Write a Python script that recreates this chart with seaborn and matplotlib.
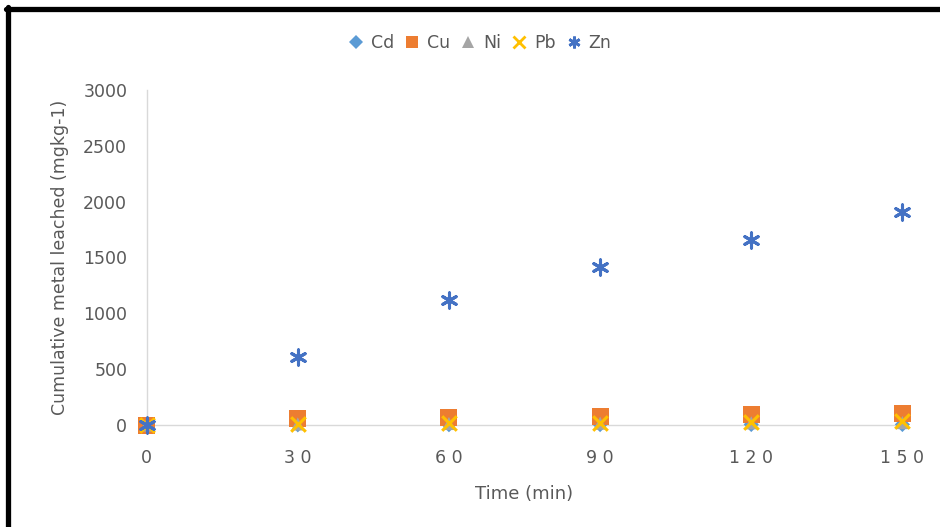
import matplotlib
matplotlib.use("Agg")
import pandas as pd
import matplotlib.pyplot as plt
import seaborn as sns
from matplotlib.lines import Line2D

# data
time_min = [0, 30, 60, 90, 120, 150]
cd = [0, 2, 3, 4, 5, 5]
cu = [0, 55, 70, 80, 95, 100]
ni = [0, 10, 14, 17, 20, 22]
pb = [0, 12, 18, 22, 28, 32]
zn = [0, 610, 1120, 1410, 1660, 1910]
metals = ["Cd", "Cu", "Ni", "Pb", "Zn"]
yticks = [0, 500, 1000, 1500, 2000, 2500, 3000]

series = {"Cd": cd, "Cu": cu, "Ni": ni, "Pb": pb, "Zn": zn}
df = pd.concat([pd.DataFrame({"time": time_min, "value": v, "metal": m})
                for m, v in series.items()], ignore_index=True)

colors = {"Cd": "#5B9BD5", "Cu": "#ED7D31", "Ni": "#A5A5A5", "Pb": "#FFC000", "Zn": "#4472C4"}
markers = {"Cd": "D", "Cu": "s", "Ni": "^", "Pb": "x", "Zn": (6, 2, 0)}
sizes = {"Cd": 60, "Cu": 150, "Ni": 90, "Pb": 110, "Zn": 120}
lw = {"Cd": 0, "Cu": 0, "Ni": 0, "Pb": 2.2, "Zn": 2.2}

sns.set_style("white")
plt.rcParams["font.family"] = ["DejaVu Sans"]
txt = "#595959"

fig = plt.figure(figsize=(9.4, 5.27), dpi=100)
ax = fig.add_axes([0.156, 0.1935, 0.804, 0.636])

for m in metals:
    sub = df[df["metal"] == m]
    sns.scatterplot(data=sub, x="time", y="value", ax=ax, color=colors[m],
                    marker=markers[m], s=sizes[m], linewidth=lw[m],
                    edgecolor=colors[m] if lw[m] else "none",
                    clip_on=False, zorder=3, legend=False)

ax.set_xlim(0, 150)
ax.set_ylim(0, 3000)
ax.set_xticks(time_min)
ax.set_yticks(yticks)
ax.set_xticklabels([" ".join(str(t)) for t in time_min])
for s in ["top", "right"]:
    ax.spines[s].set_visible(False)
for s in ["left", "bottom"]:
    ax.spines[s].set_color("#D9D9D9")
    ax.spines[s].set_linewidth(1.0)
ax.tick_params(axis="both", length=0, colors=txt, labelsize=12.5)
ax.tick_params(axis="y", pad=14)
ax.tick_params(axis="x", pad=17)
ax.set_xlabel("Time (min)", color=txt, fontsize=13, labelpad=13)
ax.set_ylabel("Cumulative metal leached (mgkg-1)", color=txt, fontsize=12.5, labelpad=10)

handles = [Line2D([], [], linestyle="none", marker=markers[m], color=colors[m],
                  markersize=8.5 if m != "Cd" else 7, markeredgewidth=2 if lw[m] else 0,
                  label=m) for m in metals]
fig.legend(handles=handles, loc="center", bbox_to_anchor=(0.51, 0.918), ncol=5,
           frameon=False, fontsize=12.5, handletextpad=0.35, columnspacing=0.55,
           labelcolor=txt, handlelength=1.0)

# black frame on the top and left edges
fig.add_artist(Line2D([6 / 940, 1], [1 - 9 / 527, 1 - 9 / 527], color="black", lw=3.8,
                      transform=fig.transFigure))
fig.add_artist(Line2D([8 / 940, 8 / 940], [0, 1 - 7 / 527], color="black", lw=3.8,
                      transform=fig.transFigure))

fig.savefig("out.png", dpi=100)
